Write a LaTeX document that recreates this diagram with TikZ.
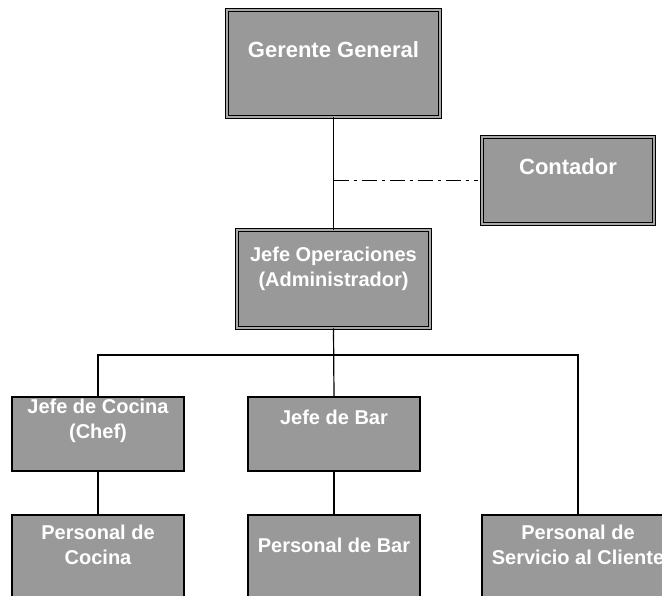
\documentclass[tikz,border=0pt]{standalone}
\usepackage{fontspec}
\setmainfont{Liberation Sans}
\definecolor{boxgray}{RGB}{153,153,153}
\definecolor{bandgray}{RGB}{168,168,168}
\tikzset{
  orgbox/.style={draw=black, line width=1.2pt, fill=boxgray, rectangle,
    inner sep=0pt},
  topbox/.style={orgbox, line width=0.9pt, double=bandgray,
    double distance=2pt},
  orgtext/.style={text=white, align=center, inner sep=0pt,
    font=\bfseries\fontsize{20}{25}\selectfont},
  bigtext/.style={orgtext, font=\bfseries\fontsize{22}{27}\selectfont},
  link/.style={draw=black, line width=1.2pt}
}
\begin{document}
\begin{tikzpicture}[x=1pt, y=-1pt]
  \useasboundingbox (0,0) rectangle (662,595);
  \clip (0,0) rectangle (662,595);
  % boxes
  \node[topbox, minimum width=213, minimum height=107] (gg) at (333.5,63.5) {};
  \node[topbox, minimum width=172, minimum height=87] (cont) at (568,180.5) {};
  \node[topbox, minimum width=193, minimum height=98] (jop) at (333.5,279) {};
  \node[orgbox, minimum width=172, minimum height=74] (jc) at (98,434) {};
  \node[orgbox, minimum width=172, minimum height=74] (jb) at (334,434) {};
  \node[orgbox, minimum width=172, minimum height=100] (pc) at (98,565) {};
  \node[orgbox, minimum width=172, minimum height=100] (pb) at (334,565) {};
  \node[orgbox, minimum width=192, minimum height=100] (ps) at (578,565) {};
  % texts
  \node[bigtext] (gg-t) at ([yshift=-40pt]gg.north) {Gerente General};
  \node[bigtext] (cont-t) at ([yshift=-30pt]cont.north) {Contador};
  \node[orgtext] (jop-t) at ([yshift=-39pt]jop.north) {Jefe Operaciones\\(Administrador)};
  \node[orgtext] (jc-t) at ([yshift=-24pt]jc.north) {Jefe de Cocina\\(Chef)};
  \node[orgtext] (jb-t) at ([yshift=-21pt]jb.north) {Jefe de Bar};
  \node[orgtext] (pc-t) at ([yshift=-30pt]pc.north) {Personal de\\Cocina};
  \node[orgtext] (pb-t) at ([yshift=-31pt]pb.north) {Personal de Bar};
  \node[orgtext] (ps-t) at ([yshift=-30pt]ps.north) {Personal de\\Servicio al Cliente};
  % connectors
  \coordinate (bus) at (334,355);
  \draw[link] (gg.south) -- (jop.north);
  \draw[link, dash pattern=on 15pt off 5pt on 3pt off 5pt]
    (cont.west -| gg.south) -- ([xshift=-4pt]cont.west);
  \draw[link] (jop.south) -- (jb.north);
  \draw[link] (jc.north) |- (bus) -| (ps.north);
  \draw[link] (jc.south) -- (pc.north);
  \draw[link] (jb.south) -- (pb.north);
\end{tikzpicture}
\end{document}
